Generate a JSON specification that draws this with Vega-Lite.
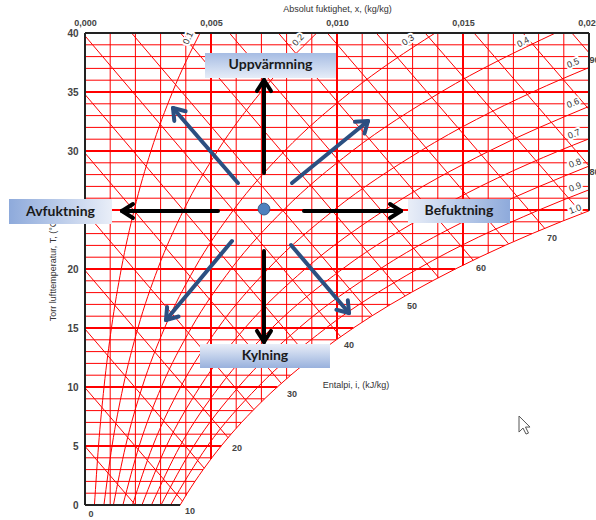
{
  "$schema": "https://vega.github.io/schema/vega-lite/v6.json",
  "width": 504,
  "height": 472,
  "autosize": {"type": "none"},
  "padding": {"left": 85, "top": 33, "right": 7, "bottom": 15},
  "background": "white",
  "config": {"view": {"stroke": null}, "font": "Liberation Sans"},
  "datasets": {
    "hgrid": [
      {"T": 1, "xmin": 0, "xmax": 0.00406}, {"T": 2, "xmin": 0, "xmax": 0.004364}, {"T": 3, "xmin": 0, "xmax": 0.004689}, {"T": 4, "xmin": 0, "xmax": 0.005034},
      {"T": 5, "xmin": 0, "xmax": 0.005403}, {"T": 6, "xmin": 0, "xmax": 0.005795}, {"T": 7, "xmin": 0, "xmax": 0.006212}, {"T": 8, "xmin": 0, "xmax": 0.006657},
      {"T": 9, "xmin": 0, "xmax": 0.007129}, {"T": 10, "xmin": 0, "xmax": 0.007631}, {"T": 11, "xmin": 0, "xmax": 0.008164}, {"T": 12, "xmin": 0, "xmax": 0.008731},
      {"T": 13, "xmin": 0, "xmax": 0.009333}, {"T": 14, "xmin": 0, "xmax": 0.009972}, {"T": 15, "xmin": 0, "xmax": 0.010649}, {"T": 16, "xmin": 0, "xmax": 0.011367},
      {"T": 17, "xmin": 0, "xmax": 0.012129}, {"T": 18, "xmin": 0, "xmax": 0.012936}, {"T": 19, "xmin": 0, "xmax": 0.013791}, {"T": 20, "xmin": 0, "xmax": 0.014696},
      {"T": 21, "xmin": 0, "xmax": 0.015656}, {"T": 22, "xmin": 0, "xmax": 0.01667}, {"T": 23, "xmin": 0, "xmax": 0.017745}, {"T": 24, "xmin": 0, "xmax": 0.01888},
      {"T": 25, "xmin": 0, "xmax": 0.02}, {"T": 26, "xmin": 0, "xmax": 0.02}, {"T": 27, "xmin": 0, "xmax": 0.02}, {"T": 28, "xmin": 0, "xmax": 0.02},
      {"T": 29, "xmin": 0, "xmax": 0.02}, {"T": 30, "xmin": 0, "xmax": 0.02}, {"T": 31, "xmin": 0, "xmax": 0.02}, {"T": 32, "xmin": 0, "xmax": 0.02},
      {"T": 33, "xmin": 0, "xmax": 0.02}, {"T": 34, "xmin": 0, "xmax": 0.02}, {"T": 35, "xmin": 0, "xmax": 0.02}, {"T": 36, "xmin": 0, "xmax": 0.02},
      {"T": 37, "xmin": 0, "xmax": 0.02}, {"T": 38, "xmin": 0, "xmax": 0.02}, {"T": 39, "xmin": 0, "xmax": 0.02}
    ],
    "vgrid": [
      {"x": 0.001, "Tmin": 0, "Tmax": 40}, {"x": 0.002, "Tmin": 0, "Tmax": 40}, {"x": 0.003, "Tmin": 0, "Tmax": 40}, {"x": 0.004, "Tmin": 0.79, "Tmax": 40},
      {"x": 0.005, "Tmin": 3.9, "Tmax": 40}, {"x": 0.006, "Tmin": 6.49, "Tmax": 40}, {"x": 0.007, "Tmin": 8.73, "Tmax": 40}, {"x": 0.008, "Tmin": 10.69, "Tmax": 40},
      {"x": 0.009, "Tmin": 12.45, "Tmax": 40}, {"x": 0.01, "Tmin": 14.04, "Tmax": 40}, {"x": 0.011, "Tmin": 15.49, "Tmax": 40}, {"x": 0.012, "Tmin": 16.83, "Tmax": 40},
      {"x": 0.013, "Tmin": 18.07, "Tmax": 40}, {"x": 0.014, "Tmin": 19.23, "Tmax": 40}, {"x": 0.015, "Tmin": 20.32, "Tmax": 40}, {"x": 0.016, "Tmin": 21.34, "Tmax": 40},
      {"x": 0.017, "Tmin": 22.31, "Tmax": 40}, {"x": 0.018, "Tmin": 23.22, "Tmax": 40}, {"x": 0.019, "Tmin": 24.1, "Tmax": 40}
    ],
    "enthalpy": [
      {"h": 5, "x1": 0, "T1": 4.97, "x2": 0.002, "T2": 0},
      {"h": 10, "x1": 0, "T1": 9.94, "x2": 0.003866, "T2": 0.33},
      {"h": 15, "x1": 0, "T1": 14.91, "x2": 0.00473, "T2": 3.12},
      {"h": 20, "x1": 0, "T1": 19.88, "x2": 0.005679, "T2": 5.7},
      {"h": 25, "x1": 0, "T1": 24.85, "x2": 0.0067, "T2": 8.09},
      {"h": 30, "x1": 0, "T1": 29.82, "x2": 0.007791, "T2": 10.3},
      {"h": 35, "x1": 0, "T1": 34.79, "x2": 0.008942, "T2": 12.35},
      {"h": 40, "x1": 0, "T1": 39.76, "x2": 0.010148, "T2": 14.26},
      {"h": 45, "x1": 0.001848, "T1": 40, "x2": 0.011405, "T2": 16.05},
      {"h": 50, "x1": 0.00379, "T1": 40, "x2": 0.012702, "T2": 17.71},
      {"h": 55, "x1": 0.005731, "T1": 40, "x2": 0.014035, "T2": 19.27},
      {"h": 60, "x1": 0.007673, "T1": 40, "x2": 0.015406, "T2": 20.74},
      {"h": 65, "x1": 0.009614, "T1": 40, "x2": 0.01681, "T2": 22.13},
      {"h": 70, "x1": 0.011556, "T1": 40, "x2": 0.018244, "T2": 23.44},
      {"h": 75, "x1": 0.013497, "T1": 40, "x2": 0.01972, "T2": 24.7},
      {"h": 80, "x1": 0.015438, "T1": 40, "x2": 0.02, "T2": 28.74},
      {"h": 85, "x1": 0.01738, "T1": 40, "x2": 0.02, "T2": 33.53},
      {"h": 90, "x1": 0.019321, "T1": 40, "x2": 0.02, "T2": 38.33}
    ],
    "rh": [
      {"phi": 0.1, "x": 0.000375, "T": 0}, {"phi": 0.1, "x": 0.000536, "T": 5}, {"phi": 0.1, "x": 0.000755, "T": 10},
      {"phi": 0.1, "x": 0.001049, "T": 15}, {"phi": 0.1, "x": 0.001439, "T": 20}, {"phi": 0.1, "x": 0.001951, "T": 25},
      {"phi": 0.1, "x": 0.002617, "T": 30}, {"phi": 0.1, "x": 0.003473, "T": 35}, {"phi": 0.1, "x": 0.004565, "T": 40},
      {"phi": 0.2, "x": 0.000751, "T": 0}, {"phi": 0.2, "x": 0.001073, "T": 5}, {"phi": 0.2, "x": 0.001511, "T": 10},
      {"phi": 0.2, "x": 0.002101, "T": 15}, {"phi": 0.2, "x": 0.002885, "T": 20}, {"phi": 0.2, "x": 0.003915, "T": 25},
      {"phi": 0.2, "x": 0.005256, "T": 30}, {"phi": 0.2, "x": 0.006986, "T": 35}, {"phi": 0.2, "x": 0.009196, "T": 40},
      {"phi": 0.3, "x": 0.001128, "T": 0}, {"phi": 0.3, "x": 0.001611, "T": 5}, {"phi": 0.3, "x": 0.00227, "T": 10},
      {"phi": 0.3, "x": 0.003157, "T": 15}, {"phi": 0.3, "x": 0.004337, "T": 20}, {"phi": 0.3, "x": 0.005891, "T": 25},
      {"phi": 0.3, "x": 0.007918, "T": 30}, {"phi": 0.3, "x": 0.010538, "T": 35}, {"phi": 0.3, "x": 0.013897, "T": 40},
      {"phi": 0.4, "x": 0.001504, "T": 0}, {"phi": 0.4, "x": 0.00215, "T": 5}, {"phi": 0.4, "x": 0.00303, "T": 10},
      {"phi": 0.4, "x": 0.004216, "T": 15}, {"phi": 0.4, "x": 0.005796, "T": 20}, {"phi": 0.4, "x": 0.00788, "T": 25},
      {"phi": 0.4, "x": 0.010602, "T": 30}, {"phi": 0.4, "x": 0.01413, "T": 35}, {"phi": 0.4, "x": 0.018669, "T": 40},
      {"phi": 0.5, "x": 0.001882, "T": 0}, {"phi": 0.5, "x": 0.00269, "T": 5}, {"phi": 0.5, "x": 0.003792, "T": 10},
      {"phi": 0.5, "x": 0.00528, "T": 15}, {"phi": 0.5, "x": 0.007262, "T": 20}, {"phi": 0.5, "x": 0.009881, "T": 25},
      {"phi": 0.5, "x": 0.01331, "T": 30}, {"phi": 0.5, "x": 0.017763, "T": 35}, {"phi": 0.5, "x": 0.02, "T": 37.07},
      {"phi": 0.6, "x": 0.002259, "T": 0}, {"phi": 0.6, "x": 0.00323, "T": 5}, {"phi": 0.6, "x": 0.004556, "T": 10},
      {"phi": 0.6, "x": 0.006346, "T": 15}, {"phi": 0.6, "x": 0.008735, "T": 20}, {"phi": 0.6, "x": 0.011895, "T": 25},
      {"phi": 0.6, "x": 0.01604, "T": 30}, {"phi": 0.6, "x": 0.02, "T": 33.78},
      {"phi": 0.7, "x": 0.002638, "T": 0}, {"phi": 0.7, "x": 0.003772, "T": 5}, {"phi": 0.7, "x": 0.005322, "T": 10},
      {"phi": 0.7, "x": 0.007417, "T": 15}, {"phi": 0.7, "x": 0.010215, "T": 20}, {"phi": 0.7, "x": 0.013922, "T": 25},
      {"phi": 0.7, "x": 0.018795, "T": 30}, {"phi": 0.7, "x": 0.02, "T": 31.03},
      {"phi": 0.8, "x": 0.003016, "T": 0}, {"phi": 0.8, "x": 0.004315, "T": 5}, {"phi": 0.8, "x": 0.00609, "T": 10},
      {"phi": 0.8, "x": 0.00849, "T": 15}, {"phi": 0.8, "x": 0.011702, "T": 20}, {"phi": 0.8, "x": 0.015962, "T": 25},
      {"phi": 0.8, "x": 0.02, "T": 28.72},
      {"phi": 0.9, "x": 0.003395, "T": 0}, {"phi": 0.9, "x": 0.004858, "T": 5}, {"phi": 0.9, "x": 0.006859, "T": 10},
      {"phi": 0.9, "x": 0.009568, "T": 15}, {"phi": 0.9, "x": 0.013196, "T": 20}, {"phi": 0.9, "x": 0.018015, "T": 25},
      {"phi": 0.9, "x": 0.02, "T": 26.71},
      {"phi": 1.0, "x": 0.003775, "T": 0}, {"phi": 1.0, "x": 0.00406, "T": 1}, {"phi": 1.0, "x": 0.004364, "T": 2},
      {"phi": 1.0, "x": 0.004689, "T": 3}, {"phi": 1.0, "x": 0.005034, "T": 4}, {"phi": 1.0, "x": 0.005403, "T": 5},
      {"phi": 1.0, "x": 0.005795, "T": 6}, {"phi": 1.0, "x": 0.006212, "T": 7}, {"phi": 1.0, "x": 0.006657, "T": 8},
      {"phi": 1.0, "x": 0.007129, "T": 9}, {"phi": 1.0, "x": 0.007631, "T": 10}, {"phi": 1.0, "x": 0.008164, "T": 11},
      {"phi": 1.0, "x": 0.008731, "T": 12}, {"phi": 1.0, "x": 0.009333, "T": 13}, {"phi": 1.0, "x": 0.009972, "T": 14},
      {"phi": 1.0, "x": 0.010649, "T": 15}, {"phi": 1.0, "x": 0.011367, "T": 16}, {"phi": 1.0, "x": 0.012129, "T": 17},
      {"phi": 1.0, "x": 0.012936, "T": 18}, {"phi": 1.0, "x": 0.013791, "T": 19}, {"phi": 1.0, "x": 0.014696, "T": 20},
      {"phi": 1.0, "x": 0.015656, "T": 21}, {"phi": 1.0, "x": 0.01667, "T": 22}, {"phi": 1.0, "x": 0.017745, "T": 23},
      {"phi": 1.0, "x": 0.01888, "T": 24}, {"phi": 1.0, "x": 0.02, "T": 24.93}
    ],
    "frame": [
      {"x": 0, "T": 0, "x2": 0, "T2": 40},
      {"x": 0, "T": 40, "x2": 0.02, "T2": 40},
      {"x": 0.02, "T": 40, "x2": 0.02, "T2": 24.93},
      {"x": 0, "T": 0, "x2": 0.003775, "T2": 0}
    ],
    "rhLabels": [
      {"rh": 0.1, "x": 0.004087, "T": 39.58}, {"rh": 0.2, "x": 0.008452, "T": 39.41},
      {"rh": 0.3, "x": 0.012817, "T": 39.41}, {"rh": 0.4, "x": 0.017381, "T": 39.24},
      {"rh": 0.5, "x": 0.019365, "T": 37.46}, {"rh": 0.6, "x": 0.019365, "T": 34.07},
      {"rh": 0.7, "x": 0.019405, "T": 31.44}, {"rh": 0.8, "x": 0.019444, "T": 28.98},
      {"rh": 0.9, "x": 0.019444, "T": 26.95}, {"rh": 1.0, "x": 0.019444, "T": 25.08}
    ],
    "hLabels": [
      {"h": 0, "x": 0.000238, "T": -0.76}, {"h": 10, "x": 0.004167, "T": -0.51},
      {"h": 20, "x": 0.006032, "T": 4.83}, {"h": 30, "x": 0.008214, "T": 9.41},
      {"h": 40, "x": 0.010476, "T": 13.56}, {"h": 50, "x": 0.012976, "T": 16.86},
      {"h": 60, "x": 0.015714, "T": 20.08}, {"h": 70, "x": 0.018532, "T": 22.63},
      {"h": 80, "x": 0.02022, "T": 28.22}, {"h": 90, "x": 0.02022, "T": 37.71}
    ],
    "arrows": [
      {"kind": "black", "x": 0.007103, "T": 28.14, "x2": 0.007103, "T2": 36.02},
      {"kind": "black", "x": 0.007103, "T": 36.02, "x2": 0.006825, "T2": 35.08},
      {"kind": "black", "x": 0.007103, "T": 36.02, "x2": 0.007381, "T2": 35.08},
      {"kind": "black", "x": 0.005278, "T": 24.92, "x2": 0.001468, "T2": 24.92},
      {"kind": "black", "x": 0.001468, "T": 24.92, "x2": 0.001905, "T2": 25.51},
      {"kind": "black", "x": 0.001468, "T": 24.92, "x2": 0.001905, "T2": 24.32},
      {"kind": "black", "x": 0.00869, "T": 24.92, "x2": 0.01254, "T2": 24.92},
      {"kind": "black", "x": 0.01254, "T": 24.92, "x2": 0.012103, "T2": 25.51},
      {"kind": "black", "x": 0.01254, "T": 24.92, "x2": 0.012103, "T2": 24.32},
      {"kind": "black", "x": 0.007103, "T": 21.53, "x2": 0.007103, "T2": 13.81},
      {"kind": "black", "x": 0.007103, "T": 13.81, "x2": 0.006825, "T2": 14.75},
      {"kind": "black", "x": 0.007103, "T": 13.81, "x2": 0.007381, "T2": 14.75},
      {"kind": "blue", "x": 0.006071, "T": 27.29, "x2": 0.003492, "T2": 33.64},
      {"kind": "blue", "x": 0.003492, "T": 33.64, "x2": 0.003544, "T2": 32.55},
      {"kind": "blue", "x": 0.003492, "T": 33.64, "x2": 0.003992, "T2": 33.37},
      {"kind": "blue", "x": 0.008214, "T": 27.29, "x2": 0.01123, "T2": 32.54},
      {"kind": "blue", "x": 0.01123, "T": 32.54, "x2": 0.010714, "T2": 32.47},
      {"kind": "blue", "x": 0.01123, "T": 32.54, "x2": 0.011091, "T2": 31.48},
      {"kind": "blue", "x": 0.005833, "T": 22.37, "x2": 0.003214, "T2": 15.68},
      {"kind": "blue", "x": 0.003214, "T": 15.68, "x2": 0.003714, "T2": 15.97},
      {"kind": "blue", "x": 0.003214, "T": 15.68, "x2": 0.003258, "T2": 16.78},
      {"kind": "blue", "x": 0.008175, "T": 22.03, "x2": 0.010476, "T2": 16.27},
      {"kind": "blue", "x": 0.010476, "T": 16.27, "x2": 0.010429, "T2": 17.36},
      {"kind": "blue", "x": 0.010476, "T": 16.27, "x2": 0.009976, "T2": 16.55}
    ],
    "boxLabels": [
      {"label": "Uppvärmning", "x": 0.007361, "T": 37.25},
      {"label": "Avfuktning", "x": -0.000972, "T": 24.87},
      {"label": "Befuktning", "x": 0.014841, "T": 24.92},
      {"label": "Kylning", "x": 0.007143, "T": 12.63}
    ]
  },
  "layer": [
    {
      "data": {"name": "hgrid"},
      "mark": {"type": "rule", "color": "#ff0000"},
      "encoding": {
        "y": {
          "field": "T", "type": "quantitative",
          "scale": {"domain": [0, 40], "nice": false, "zero": false},
          "axis": {
            "values": [0, 5, 10, 15, 20, 25, 30, 35, 40],
            "ticks": false, "domain": false, "grid": false,
            "labelPadding": 7, "labelFontSize": 10, "labelFontWeight": "bold", "labelColor": "#444444",
            "title": "Torr lufttemperatur, T, (°C)", "titleFontSize": 9, "titleFontWeight": "normal",
            "titleColor": "#333333", "titlePadding": 9
          }
        },
        "x": {
          "field": "xmin", "type": "quantitative",
          "scale": {"domain": [0, 0.02], "nice": false, "zero": false},
          "axis": {
            "orient": "top",
            "values": [0, 0.005, 0.01, 0.015, 0.02],
            "labelExpr": "replace(format(datum.value, '.3f'), '.', ',')",
            "ticks": false, "domain": false, "grid": false, "labelFlush": false, "labelOverlap": false,
            "labelPadding": 6, "labelFontSize": 9, "labelFontWeight": "bold", "labelColor": "#444444",
            "title": "Absolut fuktighet, x, (kg/kg)", "titleFontSize": 9, "titleFontWeight": "normal",
            "titleColor": "#333333", "titlePadding": 5
          }
        },
        "x2": {"field": "xmax"},
        "strokeWidth": {"condition": {"test": "datum.T % 5 === 0", "value": 2}, "value": 1}
      }
    },
    {
      "data": {"name": "vgrid"},
      "mark": {"type": "rule", "color": "#ff0000"},
      "encoding": {
        "x": {"field": "x", "type": "quantitative"},
        "y": {"field": "Tmin", "type": "quantitative"},
        "y2": {"field": "Tmax"},
        "strokeWidth": {"condition": {"test": "round(datum.x * 1000) % 5 === 0", "value": 2}, "value": 1}
      }
    },
    {
      "data": {"name": "enthalpy"},
      "mark": {"type": "rule", "color": "#ff0000", "strokeWidth": 1},
      "encoding": {
        "x": {"field": "x1", "type": "quantitative"},
        "y": {"field": "T1", "type": "quantitative"},
        "x2": {"field": "x2"},
        "y2": {"field": "T2"}
      }
    },
    {
      "data": {"name": "rh"},
      "mark": {"type": "line", "color": "#ff0000", "strokeWidth": 1, "interpolate": "monotone"},
      "encoding": {
        "x": {"field": "x", "type": "quantitative"},
        "y": {"field": "T", "type": "quantitative"},
        "detail": {"field": "phi", "type": "nominal"}
      }
    },
    {
      "data": {"name": "frame"},
      "mark": {"type": "rule", "color": "#222222", "strokeWidth": 2},
      "encoding": {
        "x": {"field": "x", "type": "quantitative"},
        "y": {"field": "T", "type": "quantitative"},
        "x2": {"field": "x2"},
        "y2": {"field": "T2"}
      }
    },
    {
      "data": {"name": "rhLabels"},
      "mark": {"type": "text", "fontSize": 9, "color": "white", "stroke": "white", "strokeWidth": 4, "strokeJoin": "round"},
      "encoding": {
        "x": {"field": "x", "type": "quantitative"},
        "y": {"field": "T", "type": "quantitative"},
        "text": {"field": "rh", "type": "quantitative", "format": ".1f"},
        "angle": {"field": "rh", "type": "quantitative", "scale": {"domain": [0.1, 0.2, 0.3, 0.4, 0.5, 1.0], "range": [-65, -47, -35, -28, -23, -20]}, "legend": null}
      }
    },
    {
      "data": {"name": "rhLabels"},
      "mark": {"type": "text", "fontSize": 9, "color": "#333333"},
      "encoding": {
        "x": {"field": "x", "type": "quantitative"},
        "y": {"field": "T", "type": "quantitative"},
        "text": {"field": "rh", "type": "quantitative", "format": ".1f"},
        "angle": {"field": "rh", "type": "quantitative", "scale": {"domain": [0.1, 0.2, 0.3, 0.4, 0.5, 1.0], "range": [-65, -47, -35, -28, -23, -20]}, "legend": null}
      }
    },
    {
      "data": {"name": "hLabels"},
      "mark": {"type": "text", "fontSize": 9, "fontWeight": "bold", "color": "#444444"},
      "encoding": {
        "x": {"field": "x", "type": "quantitative"},
        "y": {"field": "T", "type": "quantitative"},
        "text": {"field": "h", "type": "quantitative", "format": "d"}
      }
    },
    {
      "data": {"values": [{"label": "Entalpi, i, (kJ/kg)", "x": 0.010754, "T": 10.17}]},
      "mark": {"type": "text", "fontSize": 9, "color": "#333333"},
      "encoding": {
        "x": {"field": "x", "type": "quantitative"},
        "y": {"field": "T", "type": "quantitative"},
        "text": {"field": "label", "type": "nominal"}
      }
    },
    {
      "data": {"name": "arrows"},
      "mark": {"type": "rule", "strokeWidth": 4, "strokeCap": "round"},
      "encoding": {
        "x": {"field": "x", "type": "quantitative"},
        "y": {"field": "T", "type": "quantitative"},
        "x2": {"field": "x2"},
        "y2": {"field": "T2"},
        "color": {"field": "kind", "type": "nominal", "scale": {"domain": ["black", "blue"], "range": ["#000000", "#2b4f81"]}, "legend": null}
      }
    },
    {
      "data": {"values": [{"x": 0.007103, "T": 25.08}]},
      "mark": {"type": "point", "shape": "circle", "filled": true, "size": 140, "fill": "#4f81bd", "stroke": "#385d8a", "strokeWidth": 1, "opacity": 1},
      "encoding": {
        "x": {"field": "x", "type": "quantitative"},
        "y": {"field": "T", "type": "quantitative"}
      }
    },
    {
      "data": {"values": [{"x": 0.004762, "x2": 0.00996, "T": 36.19, "T2": 38.31}]},
      "mark": {"type": "rect", "fill": {"gradient": "linear", "x1": 0, "y1": 0, "x2": 0, "y2": 1, "stops": [{"offset": 0, "color": "#a6bce3"}, {"offset": 1, "color": "#e6edf8"}]}},
      "encoding": {
        "x": {"field": "x", "type": "quantitative"}, "x2": {"field": "x2"},
        "y": {"field": "T", "type": "quantitative"}, "y2": {"field": "T2"}
      }
    },
    {
      "data": {"values": [{"x": -0.003016, "x2": 0.001071, "T": 23.81, "T2": 25.93}]},
      "mark": {"type": "rect", "fill": {"gradient": "linear", "x1": 0, "y1": 0, "x2": 1, "y2": 0, "stops": [{"offset": 0, "color": "#8eaadb"}, {"offset": 1, "color": "#e9eef8"}]}},
      "encoding": {
        "x": {"field": "x", "type": "quantitative"}, "x2": {"field": "x2"},
        "y": {"field": "T", "type": "quantitative"}, "y2": {"field": "T2"}
      }
    },
    {
      "data": {"values": [{"x": 0.012817, "x2": 0.016865, "T": 23.9, "T2": 25.93}]},
      "mark": {"type": "rect", "fill": {"gradient": "linear", "x1": 0, "y1": 0, "x2": 1, "y2": 0, "stops": [{"offset": 0, "color": "#e9eef8"}, {"offset": 1, "color": "#8eaadb"}]}},
      "encoding": {
        "x": {"field": "x", "type": "quantitative"}, "x2": {"field": "x2"},
        "y": {"field": "T", "type": "quantitative"}, "y2": {"field": "T2"}
      }
    },
    {
      "data": {"values": [{"x": 0.004563, "x2": 0.009722, "T": 11.61, "T2": 13.64}]},
      "mark": {"type": "rect", "fill": {"gradient": "linear", "x1": 0, "y1": 0, "x2": 0, "y2": 1, "stops": [{"offset": 0, "color": "#e9eef8"}, {"offset": 1, "color": "#98b1dd"}]}},
      "encoding": {
        "x": {"field": "x", "type": "quantitative"}, "x2": {"field": "x2"},
        "y": {"field": "T", "type": "quantitative"}, "y2": {"field": "T2"}
      }
    },
    {
      "data": {"name": "boxLabels"},
      "mark": {"type": "text", "font": "Lato", "fontSize": 14, "fontWeight": "bold", "color": "#1a1a1a"},
      "encoding": {
        "x": {"field": "x", "type": "quantitative"},
        "y": {"field": "T", "type": "quantitative"},
        "text": {"field": "label", "type": "nominal"}
      }
    },
    {
      "data": {"values": [{"x": 0.017421, "T": 6.69}]},
      "mark": {"type": "point", "shape": "M-0.5,-1L-0.5,0.6L-0.1,0.2L0.2,0.8L0.45,0.7L0.15,0.1L0.6,0.1Z", "size": 400, "filled": true, "fill": "white", "stroke": "#555555", "strokeWidth": 1, "opacity": 1},
      "encoding": {
        "x": {"field": "x", "type": "quantitative"},
        "y": {"field": "T", "type": "quantitative"}
      }
    }
  ]
}
